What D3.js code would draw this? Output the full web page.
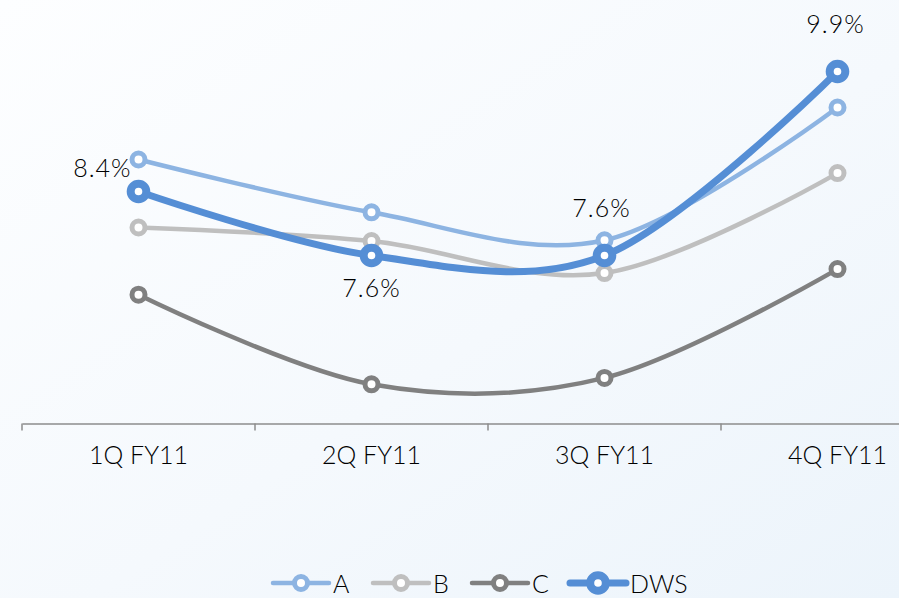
<!DOCTYPE html>
<html>
<head>
<meta charset="utf-8">
<script src="https://cdn.jsdelivr.net/npm/d3@7"></script>
<style>
  html, body { margin: 0; padding: 0; background: #fff; }
  svg { display: block; font-family: Lato, "Open Sans", sans-serif; font-weight: 300; }
</style>
</head>
<body>
<svg id="chart" width="899" height="598"></svg>
<script>
// Quarterly ratios (%)
const quarters = ["1Q FY11", "2Q FY11", "3Q FY11", "4Q FY11"];
const seriesNames = ["A", "B", "C", "DWS"];
const valuesA = [8.8, 8.14, 7.79, 9.45];
const valuesB = [7.95, 7.78, 7.38, 8.63];
const valuesC = [7.11, 5.99, 6.07, 7.43];
const valuesDWS = [8.4, 7.6, 7.6, 9.9];
const dwsLabels = ["8.4%", "7.6%", "7.6%", "9.9%"];
const colors = ["#8db4e2", "#bfbfbf", "#808080", "#558ed5"];

const series = [
  { name: seriesNames[0], values: valuesA, color: colors[0], lw: 4.5, r: 6.5, sw: 5 },
  { name: seriesNames[1], values: valuesB, color: colors[1], lw: 4.5, r: 6.5, sw: 5 },
  { name: seriesNames[2], values: valuesC, color: colors[2], lw: 4.5, r: 6.5, sw: 5 },
  { name: seriesNames[3], values: valuesDWS, color: colors[3], lw: 7, r: 7.8, sw: 8 }
];

const W = 899, H = 598;
const svg = d3.select("#chart");

// soft background wash
const defs = svg.append("defs");
const grad = defs.append("linearGradient").attr("id", "bg")
  .attr("x1", "0%").attr("y1", "0%").attr("x2", "100%").attr("y2", "100%");
grad.append("stop").attr("offset", "0%").attr("stop-color", "#fdfeff");
grad.append("stop").attr("offset", "55%").attr("stop-color", "#f5f9fd");
grad.append("stop").attr("offset", "100%").attr("stop-color", "#ecf4fb");
svg.append("rect").attr("width", W).attr("height", H).attr("fill", "url(#bg)");

const x = d3.scaleBand().domain(quarters).range([22, 954]);
const y = d3.scaleLinear().domain([5.5, 10.5]).range([423.5, 23.5]);
const cx = q => x(q) + x.bandwidth() / 2;

// category axis
const axisY = y(5.5);
const axisG = svg.append("g").attr("transform", `translate(0,${axisY})`)
  .call(d3.axisBottom(x).tickSize(0).tickPadding(23));
axisG.select(".domain").attr("stroke", "#8c8c8c").attr("stroke-width", 1.5);
axisG.selectAll(".tick text")
  .attr("font-family", "Lato, sans-serif")
  .attr("font-weight", 300)
  .attr("font-size", 25)
  .attr("fill", "#000");
// boundary tick marks between categories
svg.append("g").selectAll("line")
  .data(quarters)
  .join("line")
  .attr("x1", d => x(d)).attr("x2", d => x(d))
  .attr("y1", axisY).attr("y2", axisY + 7)
  .attr("stroke", "#8c8c8c").attr("stroke-width", 1.5);

// smoothed series lines
const line = d3.line()
  .x((d, i) => cx(quarters[i]))
  .y(d => y(d))
  .curve(d3.curveCardinal.tension(0));

const gSeries = svg.append("g");
series.forEach(s => {
  const g = gSeries.append("g");
  g.append("path")
    .attr("d", line(s.values))
    .attr("fill", "none")
    .attr("stroke", s.color)
    .attr("stroke-width", s.lw)
    .attr("stroke-linecap", "round");
  g.selectAll("circle")
    .data(s.values)
    .join("circle")
    .attr("cx", (d, i) => cx(quarters[i]))
    .attr("cy", d => y(d))
    .attr("r", s.r)
    .attr("fill", "#fff")
    .attr("stroke", s.color)
    .attr("stroke-width", s.sw);
});

// value labels on the DWS series
const labelPos = [
  { dx: -7, dy: -15, anchor: "end" },
  { dx: 0, dy: 41, anchor: "middle" },
  { dx: -3, dy: -39, anchor: "middle" },
  { dx: -2, dy: -39, anchor: "middle" }
];
svg.append("g").selectAll("text")
  .data(valuesDWS)
  .join("text")
  .attr("x", (d, i) => cx(quarters[i]) + labelPos[i].dx)
  .attr("y", (d, i) => y(d) + labelPos[i].dy)
  .attr("text-anchor", (d, i) => labelPos[i].anchor)
  .attr("font-size", 25)
  .attr("letter-spacing", 1)
  .attr("fill", "#000")
  .text((d, i) => dwsLabels[i]);

// legend
const legendX = [273, 373, 472, 570];
const legendY = 583;
const lg = svg.append("g");
series.forEach((s, i) => {
  const g = lg.append("g").attr("transform", `translate(${legendX[i]},${legendY})`);
  g.append("line").attr("x1", 0).attr("x2", 56).attr("y1", 0).attr("y2", 0)
    .attr("stroke", s.color).attr("stroke-width", s.lw).attr("stroke-linecap", "round");
  g.append("circle").attr("cx", 28).attr("cy", 0).attr("r", s.r)
    .attr("fill", "#fff").attr("stroke", s.color).attr("stroke-width", s.sw);
  g.append("text").attr("x", 60).attr("y", 0)
    .attr("dominant-baseline", "central")
    .attr("font-size", 25).attr("fill", "#000")
    .text(s.name);
});
</script>
</body>
</html>
